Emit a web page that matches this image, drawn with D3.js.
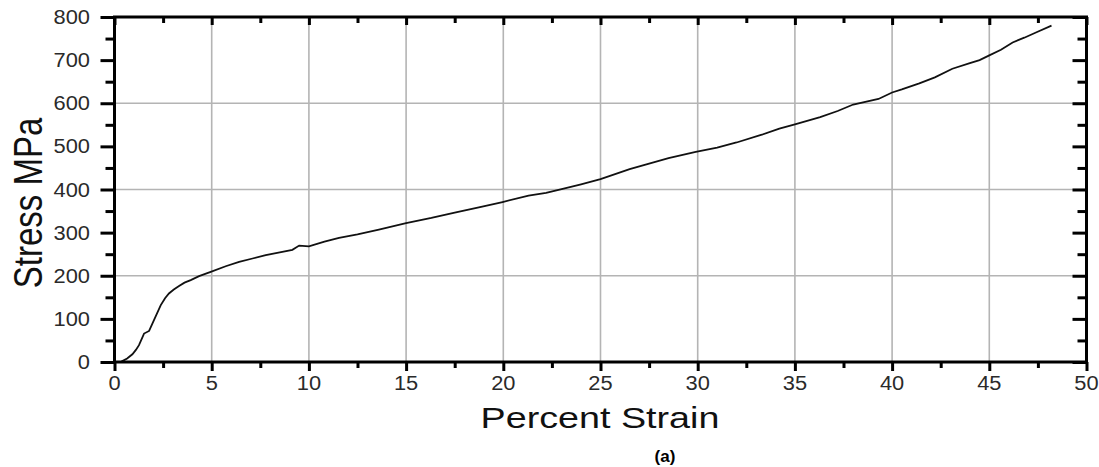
<!DOCTYPE html>
<html>
<head>
<meta charset="utf-8">
<script src="https://cdn.jsdelivr.net/npm/d3@7"></script>
<style>
  html, body { margin: 0; padding: 0; background: #ffffff; }
  svg { display: block; }
  text { font-family: "Liberation Sans", Arial, sans-serif; }
</style>
</head>
<body>
<svg id="chart" width="1099" height="467"></svg>
<script>
// ---- data ----
const strain = [0.32, 0.40, 0.65, 0.92, 1.10, 1.26, 1.52, 1.78, 2.03, 2.38, 2.60, 2.80, 3.05, 3.32, 3.60, 3.92, 4.35, 4.95, 5.72, 6.41, 7.10, 7.78, 8.50, 9.15, 9.50, 10.0, 10.8, 11.55, 12.5, 13.6, 15.0, 16.3, 17.56, 18.8, 19.96, 21.3, 22.2, 23.0, 24.0, 25.0, 26.5, 27.5, 28.5, 29.9, 31.0, 32.0, 33.3, 34.2, 35.0, 36.3, 37.2, 38.0, 39.3, 40.0, 40.5, 41.4, 42.2, 43.1, 44.0, 44.5, 45.0, 45.6, 46.2, 46.8, 47.4, 48.2];
const stress = [0, 2, 8, 18, 28, 39, 66, 72, 97, 132, 148, 159, 168, 176, 184, 190, 199, 209, 222, 232, 240, 248, 254, 260, 270, 268, 279, 288, 296, 307, 322, 334, 347, 359, 371, 386, 392, 401, 412, 424, 447, 460, 473, 487, 497, 509, 527, 541, 551, 568, 582, 597, 610, 625, 632, 646, 660, 680, 693, 700, 711, 724, 741, 752, 764, 780];
const xTicks = [0, 5, 10, 15, 20, 25, 30, 35, 40, 45, 50];
const xMinor = [2.5, 7.5, 12.5, 17.5, 22.5, 27.5, 32.5, 37.5, 42.5, 47.5];
const yTicks = [0, 100, 200, 300, 400, 500, 600, 700, 800];
const yMinor = [50, 150, 250, 350, 450, 550, 650, 750];
const xGrid = [5, 10, 15, 20, 25, 30, 35, 40, 45];
const yGrid = [200, 400, 600];
const xTitle = "Percent Strain";
const yTitle = "Stress MPa";
const caption = "(a)";

// ---- layout ----
const svg = d3.select("#chart");
const x = d3.scaleLinear().domain([0, 50]).range([114.5, 1086.5]);
const y = d3.scaleLinear().domain([0, 800]).range([362, 17]);
const [x0, x1] = x.range();
const [yb, yt] = y.range();

// gridlines
svg.append("g").selectAll("line").data(xGrid).join("line")
  .attr("x1", d => x(d)).attr("x2", d => x(d))
  .attr("y1", yt).attr("y2", yb)
  .attr("stroke", "#b4b4b4").attr("stroke-width", 1.6);
svg.append("g").selectAll("line").data(yGrid).join("line")
  .attr("x1", x0).attr("x2", x1)
  .attr("y1", d => y(d)).attr("y2", d => y(d))
  .attr("stroke", "#b4b4b4").attr("stroke-width", 1.6);

// curve
const pts = strain.map((s, i) => [s, stress[i]]);
svg.append("path")
  .datum(pts)
  .attr("fill", "none")
  .attr("stroke", "#111")
  .attr("stroke-width", 1.8)
  .attr("d", d3.line().x(d => x(d[0])).y(d => y(d[1])));

// axes (ticks only)
function styleAxis(g) {
  g.select(".domain").remove();
  g.selectAll(".tick line").attr("stroke", "#000").attr("stroke-width", 3);
  g.selectAll(".tick text").remove();
}
svg.append("g").attr("transform", `translate(0,${yb})`)
  .call(d3.axisBottom(x).tickValues(xTicks).tickSize(9)).call(styleAxis);
svg.append("g").attr("transform", `translate(0,${yb})`)
  .call(d3.axisBottom(x).tickValues(xMinor).tickSize(6)).call(styleAxis);
svg.append("g").attr("transform", `translate(0,${yt})`)
  .call(d3.axisBottom(x).tickValues(xTicks).tickSize(8)).call(styleAxis);
svg.append("g").attr("transform", `translate(0,${yt})`)
  .call(d3.axisBottom(x).tickValues(xMinor).tickSize(6)).call(styleAxis);
svg.append("g").attr("transform", `translate(${x0},0)`)
  .call(d3.axisLeft(y).tickValues(yTicks).tickSize(14)).call(styleAxis);
svg.append("g").attr("transform", `translate(${x0},0)`)
  .call(d3.axisLeft(y).tickValues(yMinor).tickSize(9)).call(styleAxis);
svg.append("g").attr("transform", `translate(${x1},0)`)
  .call(d3.axisLeft(y).tickValues(yTicks).tickSize(14)).call(styleAxis);
svg.append("g").attr("transform", `translate(${x1},0)`)
  .call(d3.axisLeft(y).tickValues(yMinor).tickSize(9)).call(styleAxis);

// frame
svg.append("rect")
  .attr("x", x0).attr("y", yt)
  .attr("width", x1 - x0).attr("height", yb - yt)
  .attr("fill", "none").attr("stroke", "#000").attr("stroke-width", 3);

// tick labels
const sx = 1.12;
svg.append("g").selectAll("text").data(yTicks).join("text")
  .attr("transform", d => `translate(90,${y(d) + 7}) scale(${sx},1)`)
  .attr("text-anchor", "end")
  .attr("font-size", 19.5)
  .attr("fill", "#2a2a2a")
  .text(d => d);
svg.append("g").selectAll("text").data(xTicks).join("text")
  .attr("transform", d => `translate(${x(d)},390) scale(${sx},1)`)
  .attr("text-anchor", "middle")
  .attr("font-size", 19.5)
  .attr("fill", "#2a2a2a")
  .text(d => d);

// titles
svg.append("text")
  .attr("transform", `translate(600,428) scale(1.3,1)`)
  .attr("text-anchor", "middle")
  .attr("font-size", 29)
  .attr("fill", "#111")
  .text(xTitle);
svg.append("text")
  .attr("transform", `translate(42,203) scale(1.25,1) rotate(-90)`)
  .attr("text-anchor", "middle")
  .attr("font-size", 33)
  .attr("fill", "#111")
  .text(yTitle);
svg.append("text")
  .attr("x", 665).attr("y", 462)
  .attr("text-anchor", "middle")
  .attr("font-family", "'Liberation Serif', 'Times New Roman', serif")
  .attr("font-weight", "bold")
  .attr("font-size", 17)
  .attr("fill", "#000")
  .text(caption);
</script>
</body>
</html>
